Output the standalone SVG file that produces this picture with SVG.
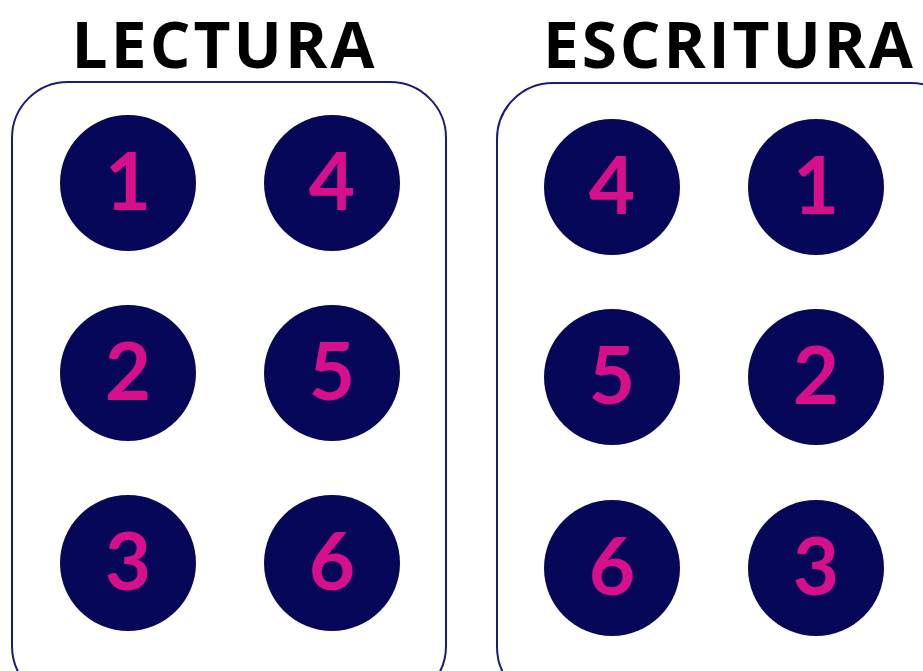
<svg xmlns="http://www.w3.org/2000/svg" width="923" height="671" viewBox="0 0 923 671">
<style>
.title{font-family:"Open Sans","DejaVu Sans",sans-serif;font-weight:700;font-size:64px;fill:#000;text-anchor:middle}
.box{fill:#fff;stroke:#1c1c74;stroke-width:2}
.dot{fill:#07075a}
.num{font-family:Lato,"DejaVu Sans",sans-serif;font-weight:700;font-size:80px;fill:#d80f8b;text-anchor:middle}
</style>
<rect width="923" height="671" fill="#fff"/>
<g id="lectura">
<text class="title" x="223" y="68" textLength="303" lengthAdjust="spacing">LECTURA</text>
<rect class="box" x="12" y="82" width="434" height="620" rx="56"/>
<g id="l1"><circle class="dot" cx="128" cy="183" r="68"/><text class="num" x="128" y="210">1</text></g>
<g id="l2"><circle class="dot" cx="128" cy="373" r="68"/><text class="num" x="128" y="400">2</text></g>
<g id="l3"><circle class="dot" cx="128" cy="563" r="68"/><text class="num" x="128" y="590">3</text></g>
<g id="l4"><circle class="dot" cx="332" cy="183" r="68"/><text class="num" x="332" y="210">4</text></g>
<g id="l5"><circle class="dot" cx="332" cy="373" r="68"/><text class="num" x="332" y="400">5</text></g>
<g id="l6"><circle class="dot" cx="332" cy="563" r="68"/><text class="num" x="332" y="590">6</text></g>
</g>
<g id="escritura">
<text class="title" x="728" y="68" textLength="370" lengthAdjust="spacing">ESCRITURA</text>
<rect class="box" x="497" y="83" width="470" height="620" rx="56"/>
<g id="e4"><circle class="dot" cx="612" cy="187" r="68"/><text class="num" x="612" y="214">4</text></g>
<g id="e5"><circle class="dot" cx="612" cy="377" r="68"/><text class="num" x="612" y="404">5</text></g>
<g id="e6"><circle class="dot" cx="612" cy="568" r="68"/><text class="num" x="612" y="595">6</text></g>
<g id="e1"><circle class="dot" cx="816" cy="187" r="68"/><text class="num" x="816" y="214">1</text></g>
<g id="e2"><circle class="dot" cx="816" cy="377" r="68"/><text class="num" x="816" y="404">2</text></g>
<g id="e3"><circle class="dot" cx="816" cy="568" r="68"/><text class="num" x="816" y="595">3</text></g>
</g>
<g id="connectors"/>
</svg>
